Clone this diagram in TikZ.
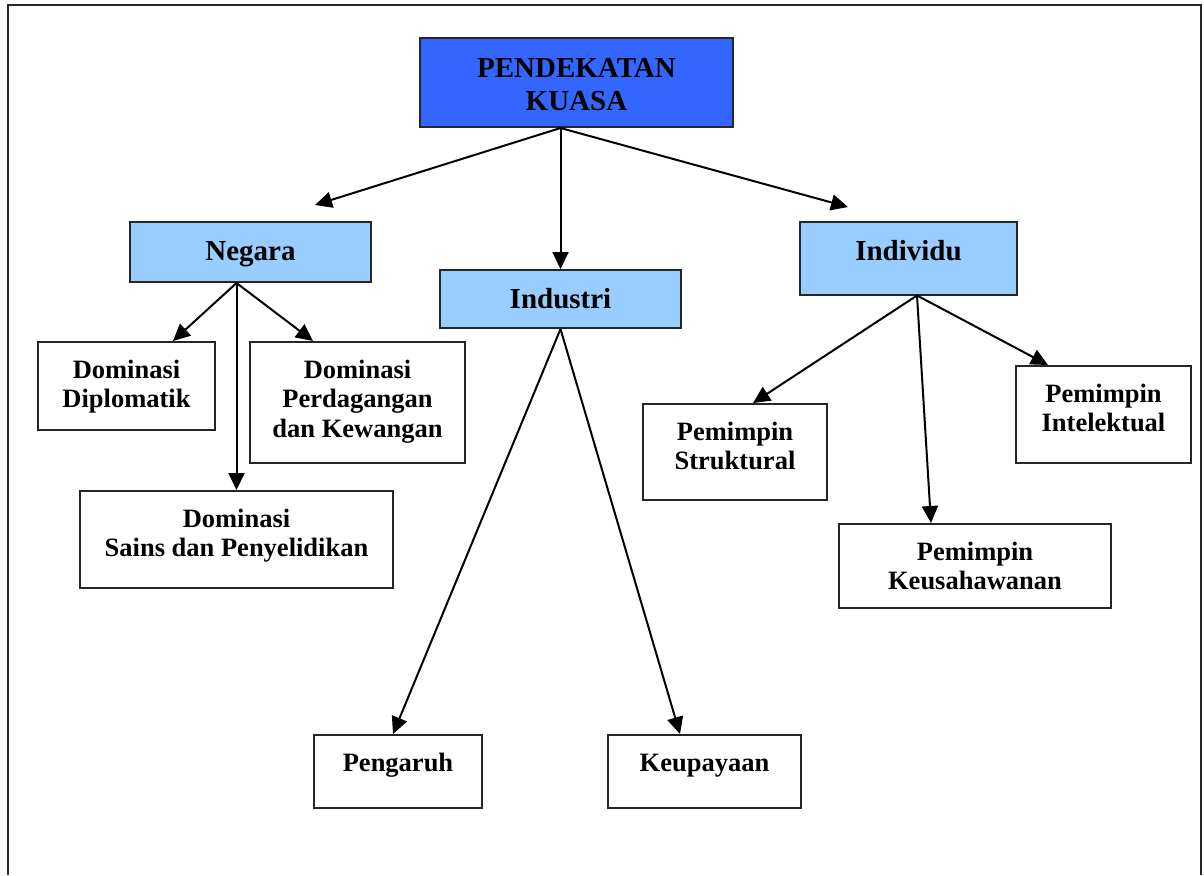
\documentclass[tikz,border=0pt]{standalone}
\usepackage{fontspec}
\setmainfont{Liberation Serif}
\usepackage{tikz}
\usetikzlibrary{arrows.meta,calc}

\definecolor{kuasablue}{RGB}{51,102,255}
\definecolor{lightblue}{RGB}{153,204,255}

\begin{document}
\begin{tikzpicture}[x=0.5pt,y=-0.5pt]
\tikzstyle{box}=[draw=black!85, line width=1pt, rectangle, anchor=north, align=center, inner xsep=2pt, inner ysep=0pt]
\tikzstyle{top}=[box, fill=kuasablue, font=\fontsize{14.5}{16.5}\selectfont\bfseries]
\tikzstyle{mid}=[box, fill=lightblue, font=\fontsize{14.5}{16.5}\selectfont\bfseries, text height=19.25pt]
\tikzstyle{leaf}=[box, fill=white, font=\fontsize{13.25}{14.75}\selectfont\bfseries, text height=18pt]
\tikzstyle{leaftwo}=[leaf, text height=32.75pt]
\tikzstyle{arr}=[black, line width=1pt, -{Triangle[length=8.5pt,width=8pt]}]
\useasboundingbox (0,0) rectangle (1204,875);
\draw [black!85, line width=0.9pt] (8,875) -- (8,5) -- (1201,5) -- (1201,875);
\node [top, minimum width=156.5pt, text height=36pt, text depth=8.5pt] (kuasa) at (576.5,37) {PENDEKATAN\\KUASA};
\node [mid, minimum width=120.5pt, text depth=10.75pt] (negara) at (250.5,221) {Negara};
\node [mid, minimum width=120.5pt, text depth=9.75pt] (industri) at (560.5,269) {Industri};
\node [mid, minimum width=108.5pt, text depth=17pt] (individu) at (908.5,221) {Individu};
\node [leaftwo, minimum width=88.5pt, text depth=11.25pt] (diplomatik) at (126.5,341) {Dominasi\\Diplomatik};
\node [leaf, minimum width=107.5pt, text height=47.5pt, text depth=13pt] (perdagangan) at (357.5,341) {Dominasi\\Perdagangan\\dan Kewangan};
\node [leaftwo, minimum width=156.5pt, text depth=15.75pt] (sains) at (236.5,490) {Dominasi\\Sains dan Penyelidikan};
\node [leaf, minimum width=84pt, text depth=18.5pt] (pengaruh) at (398,734) {Pengaruh};
\node [leaf, minimum width=96.5pt, text depth=18.5pt] (keupayaan) at (704.5,734) {Keupayaan};
\node [leaftwo, minimum width=92pt, text depth=15.25pt] (struktural) at (735,403) {Pemimpin\\Struktural};
\node [leaftwo, minimum width=87.5pt, text depth=15.75pt] (intelektual) at (1103.5,365) {Pemimpin\\Intelektual};
\node [leaftwo, minimum width=136pt, text depth=9.25pt] (keusahawanan) at (975,523) {Pemimpin\\Keusahawanan};
\coordinate (negaratip) at (315,205);
\coordinate (individutip) at (848,207);
\draw [arr] (kuasa.south -| industri.north) -- (negaratip);
\draw [arr] (kuasa.south -| industri.north) -- (industri.north);
\draw [arr] (kuasa.south -| industri.north) -- (individutip);
\draw [arr] (negara.south -| sains.north) -- ($(diplomatik.north)+(23.25pt,0)$);
\draw [arr] (negara.south -| sains.north) -- (sains.north);
\draw [arr] (negara.south -| sains.north) -- ($(perdagangan.north)+(-22.25pt,0)$);
\draw [arr] (industri.south) -- ($(pengaruh.north)+(-2.5pt,0)$);
\draw [arr] (industri.south) -- ($(keupayaan.north)+(-12.25pt,0)$);
\draw [arr] ($(individu.south)+(4.25pt,0)$) -- ($(struktural.north)+(9pt,0)$);
\draw [arr] ($(individu.south)+(4.25pt,0)$) -- ($(keusahawanan.north)+(-22pt,0)$);
\draw [arr] ($(individu.south)+(4.25pt,0)$) -- ($(intelektual.north)+(-27.75pt,0)$);
\end{tikzpicture}
\end{document}
